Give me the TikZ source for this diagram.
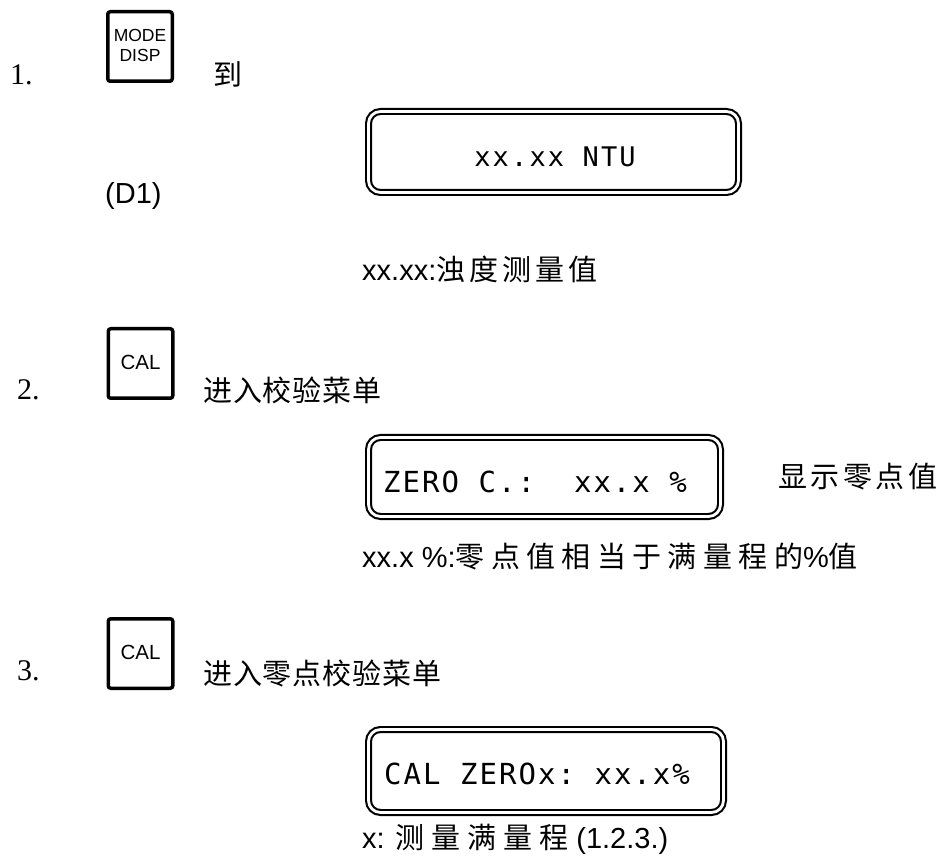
\documentclass[tikz,border=0pt]{standalone}
\usepackage{fontspec}
\setmainfont{Liberation Sans}
\newfontfamily\numfont{Liberation Serif}
\newfontfamily\cjk{Noto Sans CJK SC}
\newfontfamily\lcd{DejaVu Sans Mono}
\newcommand\cj[2]{{\cjk\addfontfeature{LetterSpace=#1}#2}}
\tikzset{
  keybox/.style={draw, line width=3.5pt, rounded corners=2.5pt, minimum width=64.5pt, minimum height=69.5pt, inner sep=0pt},
  display/.style={draw, double, double distance=2.8pt, line width=2.1pt, rounded corners=12pt, inner sep=0pt},
  txt/.style={inner sep=0pt, anchor=base west},
  num/.style={txt, font=\numfont\fontsize{30}{32}\selectfont},
  lat/.style={txt, font=\fontsize{29}{31}\selectfont},
  keytxt/.style={inner sep=0pt, anchor=base},
  lcdtxt/.style={txt, font=\lcd\addfontfeature{LetterSpace=7}\fontsize{29}{31}\selectfont},
}
\begin{document}
\begin{tikzpicture}[x=1pt,y=-1pt]
\useasboundingbox (0,0) rectangle (940,858);
% step 1
\node[num] (n1) at (10,85) {1.};
\node[keybox] (k1) at (140,46.5) {};
\node[keytxt, font=\fontsize{17.5}{20}\selectfont] (k1a) at (140,42) {MODE};
\node[keytxt, font=\fontsize{17.5}{20}\selectfont] (k1b) at (140,62) {DISP};
\node[lat] (t1) at (213,86) {\cj{0}{到}};
\node[display, minimum width=370pt, minimum height=81pt] (d1) at (553.5,152) {};
\node[keytxt, font=\lcd\addfontfeature{LetterSpace=8}\fontsize{27}{29}\selectfont] (d1t) at (555,167) {xx.xx NTU};
\node[lat] (d1l) at (105,204) {(D1)};
\node[lat] (c1) at (362,281) {xx.xx:\cj{14}{浊度测量值}};
% step 2
\node[num] (n2) at (17,400) {2.};
\node[keybox] (k2) at (140.5,363.5) {};
\node[keytxt, font=\fontsize{20.5}{22}\selectfont] (k2t) at (140.5,370) {CAL};
\node[lat] (t2) at (203,402) {\cj{3}{进入校验菜单}};
\node[display, minimum width=352pt, minimum height=79pt] (d2) at (544.5,477) {};
\node[lcdtxt] (d2t) at (383,493) {ZERO~C.:~~xx.x~\%};
\node[lat] (s2) at (778,487) {\cj{12}{显示零点值}};
\node[lat] (c2) at (362,567) {xx.x \%:\cj{22}{零点值相当于满量程的}\%\cj{0}{值}};
% step 3
\node[num] (n3) at (17,680) {3.};
\node[keybox] (k3) at (140.5,653.5) {};
\node[keytxt, font=\fontsize{20.5}{22}\selectfont] (k3t) at (140.5,659) {CAL};
\node[lat] (t3) at (203,684) {\cj{3}{进入零点校验菜单}};
\node[display, minimum width=355pt, minimum height=83pt] (d3) at (546,771) {};
\node[lcdtxt] (d3t) at (384,784) {CAL~ZEROx:~xx.x\%};
\node[lat] (c3) at (362,848) {x: \cj{24}{测量满量程} (1.2.3.)};
\end{tikzpicture}
\end{document}
